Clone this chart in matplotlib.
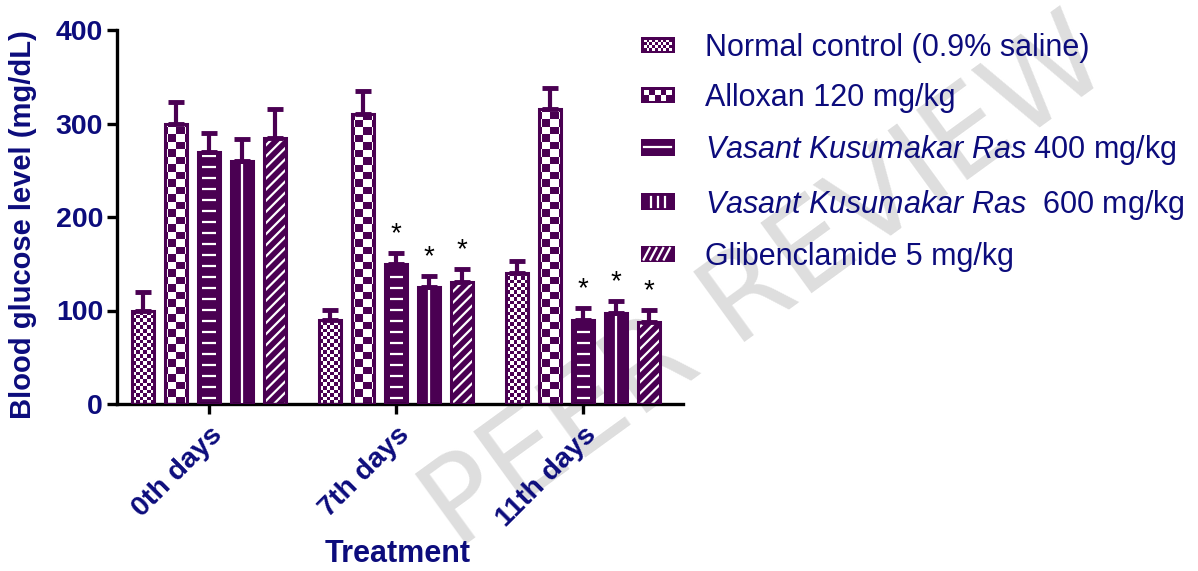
import numpy as np
import matplotlib
matplotlib.use("Agg")
import matplotlib.pyplot as plt
from matplotlib.patches import Rectangle
from matplotlib.lines import Line2D
from matplotlib.colors import ListedColormap
from matplotlib.legend_handler import HandlerBase

# data
groups = ["0th days", "7th days", "11th days"]
series = ["Normal control (0.9% saline)",
          "Alloxan 120 mg/kg",
          r"$\it{Vasant\ Kusumakar\ Ras}$ 400 mg/kg",
          r"$\it{Vasant\ Kusumakar\ Ras}$  600 mg/kg",
          "Glibenclamide 5 mg/kg"]
means = [[100, 90, 140],
         [300, 310, 315],
         [270, 150, 90],
         [260, 125, 97],
         [285, 130, 88]]
errors = [[20, 11, 13],
          [23, 25, 23],
          [20, 12, 13],
          [23, 12, 13],
          [31, 14, 13]]
signif = [[False, False, False],
          [False, False, False],
          [False, True, True],
          [False, True, True],
          [False, True, True]]
styles = ["fine", "coarse", "hline", "vline", "diag"]

PURPLE = "#4a0052"
NAVY = "#0c0c7c"

plt.rcParams["font.family"] = ["Liberation Sans", "DejaVu Sans"]
plt.rcParams["mathtext.fontset"] = "custom"
plt.rcParams["mathtext.it"] = "Liberation Sans:italic"
plt.rcParams["mathtext.rm"] = "Liberation Sans"
plt.rcParams["hatch.linewidth"] = 1.6

fig = plt.figure(figsize=(11.98, 5.71), dpi=100)
ax = fig.add_axes([117 / 1198, 1 - 404 / 571, 566 / 1198, 374 / 571])
ax.set_facecolor("none")

# watermark behind everything
fig.text(0.64, 0.5, "PEER REVIEW", rotation=36, color="#dedede", fontsize=86,
         family="DejaVu Sans", ha="center", va="center", zorder=-10,
         rotation_mode="anchor")

group_gap = 5.67
width = 0.67
centers = np.arange(len(groups)) * group_gap


def checker(ax, bar, cw, ch):
    x0 = bar.get_x()
    w = bar.get_width()
    h = bar.get_height()
    nx = int(np.ceil(w / cw)) + 1
    ny = int(np.ceil(h / ch)) + 1
    arr = (np.add.outer(np.arange(ny), np.arange(nx)) % 2).astype(float)
    x_start = x0 + w / 2 - nx * cw / 2
    im = ax.imshow(arr, cmap=ListedColormap([PURPLE, "white"]), origin="lower",
                   extent=(x_start, x_start + nx * cw, 0, ny * ch),
                   interpolation="nearest", aspect="auto", zorder=2)
    im.set_clip_path(bar)


for k, (vals, errs) in enumerate(zip(means, errors)):
    xs = centers + (k - 2)
    st = styles[k]
    if st == "diag":
        bars = ax.bar(xs, vals, width, color=PURPLE, edgecolor="white",
                      hatch="///", linewidth=0, zorder=2)
    else:
        bars = ax.bar(xs, vals, width, color=PURPLE, linewidth=0, zorder=2)
    for b in bars:
        x0, w, h = b.get_x(), b.get_width(), b.get_height()
        if st == "fine":
            checker(ax, b, 0.105, 3.8)
        elif st == "coarse":
            checker(ax, b, 0.235, 8.0)
        elif st == "hline":
            ys = np.arange(6, h - 4, 11.8)
            ax.hlines(ys, x0 + 0.2 * w, x0 + 0.8 * w, color="white", lw=1.6, zorder=3)
        elif st == "vline":
            ax.vlines(x0 + w / 2, 0, h - 3, color="white", lw=1.6, zorder=3)
    ax.bar(xs, vals, width, facecolor="none", edgecolor=PURPLE, linewidth=2.2, zorder=4)
    ax.errorbar(xs, vals, yerr=[np.zeros(len(vals)), errs], fmt="none", ecolor=PURPLE,
                elinewidth=3, capsize=6, capthick=3.5, zorder=5)
    for x, v, e, s in zip(xs, vals, errs, signif[k]):
        if s:
            ax.text(x, v + e + 20, "*", ha="center", va="center", fontsize=20,
                    color="black", zorder=6)

ax.set_xlim(-2.79, 14.36)
ax.set_ylim(0, 400)
ax.set_yticks([0, 100, 200, 300, 400])
ax.set_xticks(centers)
ax.set_xticklabels(groups, rotation=45, ha="right", rotation_mode="anchor")
for lab in ax.get_xticklabels() + ax.get_yticklabels():
    lab.set_fontweight("bold")
    lab.set_color(NAVY)
    lab.set_fontsize(20.5)
for side in ["top", "right"]:
    ax.spines[side].set_visible(False)
for side in ["left", "bottom"]:
    ax.spines[side].set_linewidth(2.4)
ax.tick_params(axis="both", width=2.4, length=7, pad=3)
ax.tick_params(axis="x", pad=6)
ax.set_ylabel("Blood glucose level (mg/dL)", fontsize=21, fontweight="bold", color=NAVY)
ax.yaxis.set_label_coords(-0.142, 0.48)
ax.set_xlabel("Treatment", fontsize=22, fontweight="bold", color=NAVY)
ax.xaxis.set_label_coords(0.495, -0.36)


class Swatch(HandlerBase):
    def __init__(self, kind):
        super().__init__()
        self.kind = kind

    def create_artists(self, legend, orig_handle, xd, yd, w, h, fs, trans):
        x0, y0 = -xd, -yd
        arts = [Rectangle((x0, y0), w, h, facecolor=PURPLE, edgecolor="none",
                          transform=trans)]
        pad = 2
        if self.kind in ("fine", "coarse"):
            nx, ny = (10, 4) if self.kind == "fine" else (5, 2)
            cw = (w - 2 * pad) / nx
            chh = (h - 2 * pad) / ny
            for i in range(nx):
                for j in range(ny):
                    if (i + j) % 2:
                        arts.append(Rectangle((x0 + pad + i * cw, y0 + pad + j * chh),
                                              cw, chh, facecolor="white",
                                              edgecolor="none", transform=trans))
        elif self.kind == "hline":
            arts.append(Line2D([x0 + 0.1 * w, x0 + 0.9 * w], [y0 + h / 2] * 2,
                               color="white", lw=1.6, transform=trans))
        elif self.kind == "vline":
            for f in (0.3, 0.5, 0.7):
                arts.append(Line2D([x0 + f * w] * 2, [y0 + 0.2 * h, y0 + 0.8 * h],
                                   color="white", lw=1.6, transform=trans))
        elif self.kind == "diag":
            for f in (0.08, 0.28, 0.48, 0.68):
                arts.append(Line2D([x0 + f * w, x0 + (f + 0.18) * w],
                                   [y0 + 0.15 * h, y0 + 0.85 * h],
                                   color="white", lw=1.6, transform=trans))
        return arts


handles = [Rectangle((0, 0), 1, 1) for _ in series]
leg = fig.legend(handles, series, loc="upper left",
                 bbox_to_anchor=(641 / 1198, 1 - 33 / 571),
                 frameon=False, fontsize=22, handlelength=1.1, handleheight=0.45,
                 handletextpad=0.98, labelspacing=0.66, borderpad=0, borderaxespad=0,
                 handler_map={h: Swatch(s) for h, s in zip(handles, styles)})
for t in leg.get_texts():
    t.set_color(NAVY)

fig.savefig("out.png", dpi=100)
